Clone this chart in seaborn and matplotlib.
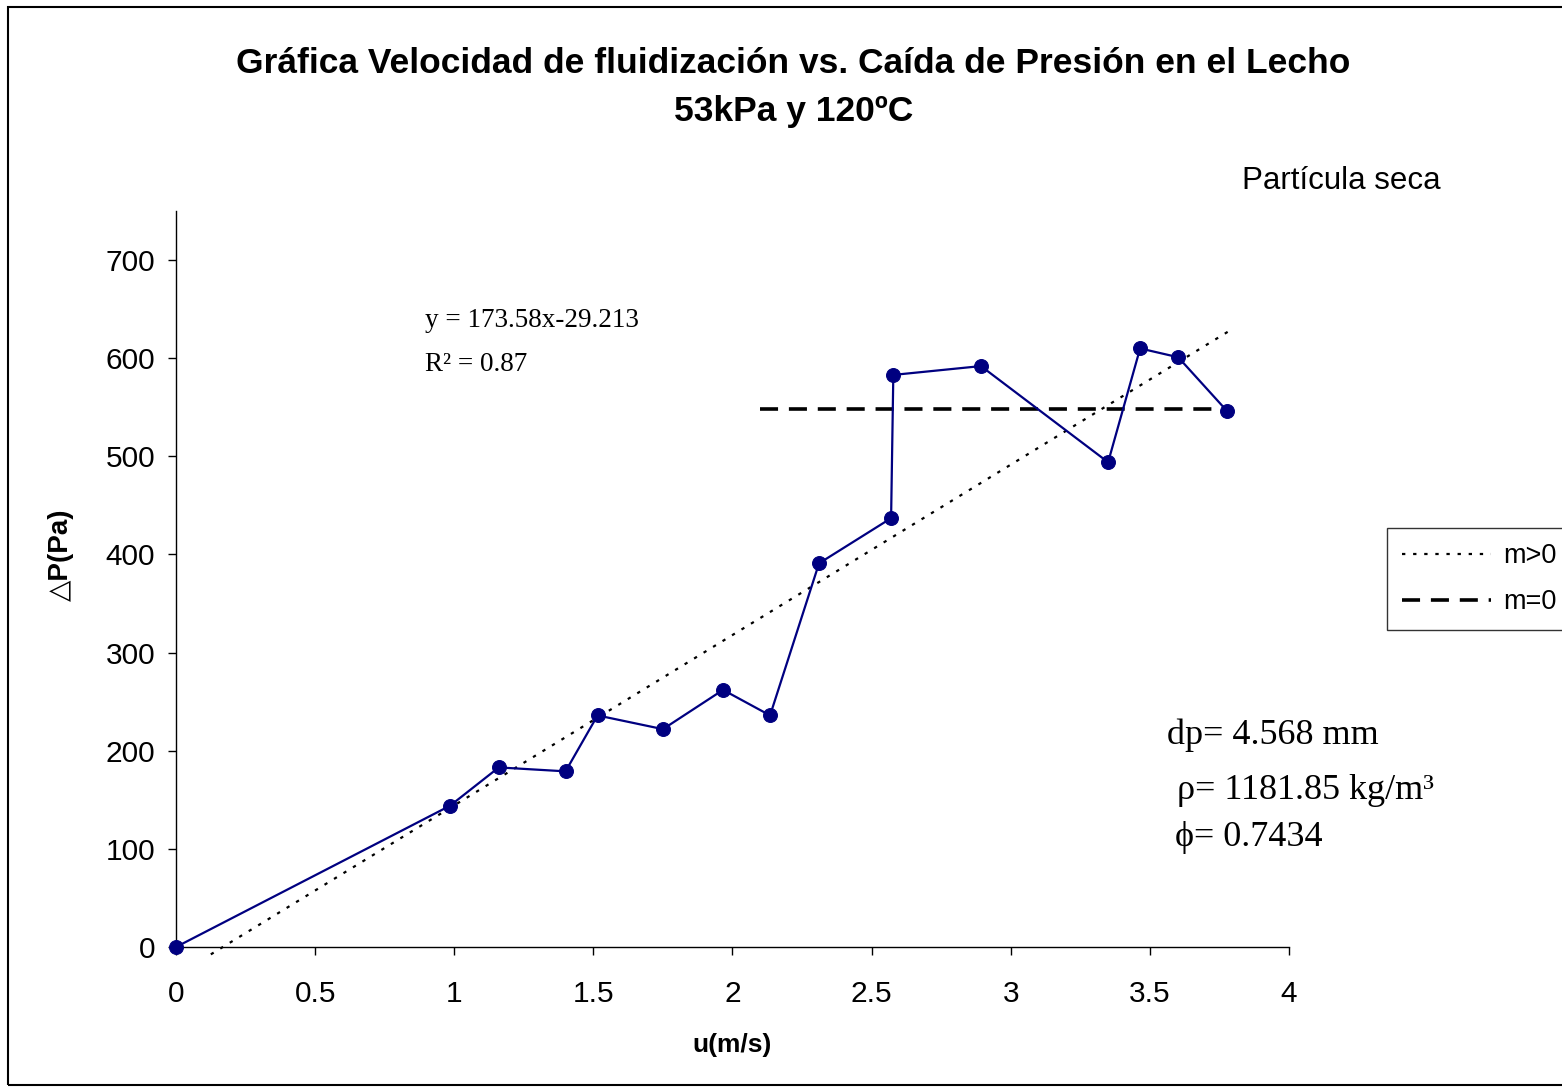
import seaborn as sns
import matplotlib.pyplot as plt
import numpy as np
import pandas as pd
from matplotlib.patches import Rectangle

# velocidad de fluidizacion (m/s) y caida de presion (Pa)
u_vals = [0.0, 0.985, 1.16, 1.40, 1.515, 1.75, 1.966, 2.135, 2.311, 2.570, 2.578, 2.893, 3.350, 3.465, 3.602, 3.778]
dp_vals = [0, 144, 183, 179, 236, 222, 262, 236, 391, 437, 583, 592, 494, 610, 601, 546]

# ajuste lineal (m>0) y meseta (m=0)
slope = 173.58
intercept = -29.213
trend_x = [0.125, 3.79]
flat_x = [2.10, 3.78]
flat_y = [548, 548]

sns.set_style("white")
plt.rcParams['font.family'] = ['Liberation Sans', 'DejaVu Sans']
for k in ['text.color', 'axes.labelcolor', 'xtick.color', 'ytick.color']:
    plt.rcParams[k] = 'black'

fig = plt.figure(figsize=(15.62, 10.89), dpi=100)
ax = fig.add_axes([0.1127, 0.1304, 0.7125, 0.6758])

df = pd.DataFrame({'u': u_vals, 'dp': dp_vals})
sns.lineplot(data=df, x='u', y='dp', ax=ax, color='#000080', marker='o',
             markersize=10, markeredgecolor='#000080', linewidth=1.6,
             sort=False, estimator=None, clip_on=False, zorder=3)

tx = np.array(trend_x)
sns.lineplot(x=tx, y=slope * tx + intercept, ax=ax, color='black',
             linewidth=1.6, linestyle=(0, (1.5, 3.5)), label='m>0', clip_on=False)
sns.lineplot(x=flat_x, y=flat_y, ax=ax, color='black', linewidth=2.6,
             linestyle=(0, (5, 3)), label='m=0')

ax.set_xlim(0, 4)
ax.set_ylim(0, 750)
ax.set_xticks(np.arange(0, 4.01, 0.5))
ax.set_xticklabels(['0', '0.5', '1', '1.5', '2', '2.5', '3', '3.5', '4'])
ax.set_yticks(np.arange(0, 701, 100))
for s in ['top', 'right']:
    ax.spines[s].set_visible(False)
for s in ['left', 'bottom']:
    ax.spines[s].set_color('black')
    ax.spines[s].set_linewidth(1.0)
ax.tick_params(axis='x', direction='out', length=6, width=1, pad=18, labelsize=21.5, bottom=True)
ax.tick_params(axis='y', direction='out', length=6, width=1, pad=9, labelsize=21.5, left=True)

ax.set_xlabel('u(m/s)', fontsize=19, fontweight='bold')
ax.xaxis.set_label_coords(0.5, -0.117)
ax.set_ylabel('△P(Pa)', fontsize=20, fontweight='bold')
ax.yaxis.set_label_coords(-0.092, 0.533)

fig.text(0.508, 0.942, 'Gráfica Velocidad de fluidización vs. Caída de Presión en el Lecho',
         ha='center', va='center', fontsize=25.5, fontweight='bold')
fig.text(0.508, 0.898, '53kPa y 120ºC', ha='center', va='center',
         fontsize=25.5, fontweight='bold')
fig.text(0.859, 0.834, 'Partícula seca', ha='center', va='center', fontsize=22.5)

serif = ['Liberation Serif', 'DejaVu Serif']
ax.text(0.224, 0.868, 'y = 173.58x-29.213\nR² = 0.87', transform=ax.transAxes,
        fontsize=19.5, family=serif, va='top', ha='left', linespacing=2.0)
ax.text(0.890, 0.288, 'dp= 4.568 mm', transform=ax.transAxes, fontsize=26,
        family=serif, va='center')
ax.text(0.899, 0.213, 'ρ= 1181.85 kg/m³', transform=ax.transAxes, fontsize=26,
        family=serif, va='center')
ax.text(0.898, 0.149, 'ϕ= 0.7434', transform=ax.transAxes, fontsize=26,
        family=serif, va='center')

leg = ax.legend(loc='upper left', bbox_to_anchor=(0.888, 0.515),
                bbox_transform=fig.transFigure, fontsize=19.5, frameon=True,
                fancybox=False, handlelength=3.3, handletextpad=0.45,
                borderpad=0.55, labelspacing=0.75, borderaxespad=0)
leg.get_frame().set_edgecolor('black')
leg.get_frame().set_linewidth(1.0)

fig.patches.append(Rectangle((0.005, 0.004), 1.0, 0.99, transform=fig.transFigure,
                             fill=False, edgecolor='black', linewidth=1.5))

plt.savefig('out.png', dpi=100)
plt.close()
